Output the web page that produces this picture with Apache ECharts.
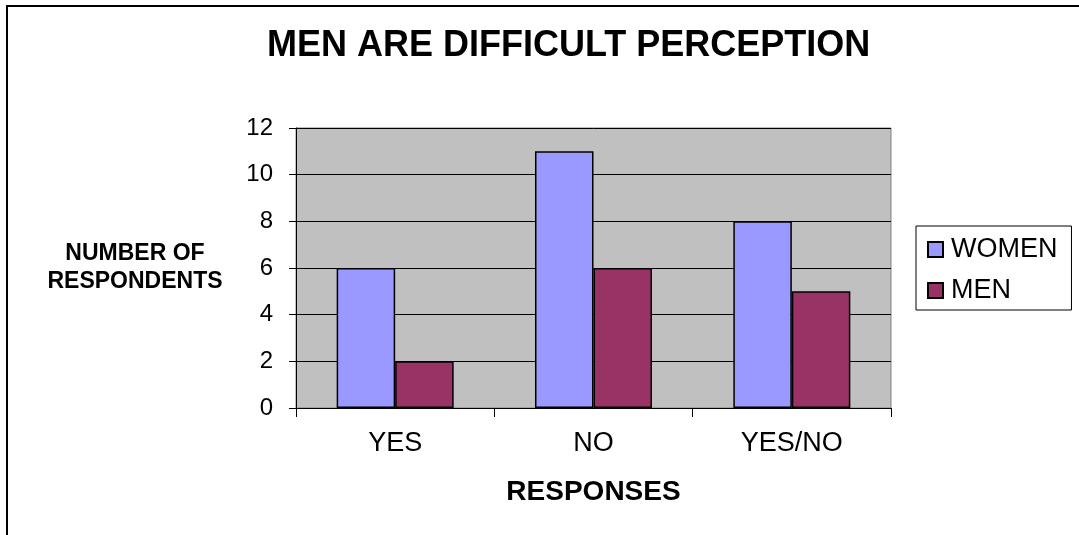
<!DOCTYPE html>
<html>
<head>
<meta charset="utf-8">
<script src="https://cdn.jsdelivr.net/npm/echarts@6/dist/echarts.min.js"></script>
<style>
html,body{margin:0;padding:0;background:#fff;}
#main{width:1079px;height:535px;}
</style>
</head>
<body>
<div id="main"></div>
<script>
// data
var categories = ['YES', 'NO', 'YES/NO'];
var women = [6, 11, 8];
var men = [2, 6, 5];
var yTicks = [0, 2, 4, 6, 8, 10, 12];

var font = '"Liberation Sans", Arial, sans-serif';

var myChart = echarts.init(document.getElementById('main'));

option = {
    backgroundColor: '#fff',
    animation: false,
    title: {
        text: 'MEN ARE DIFFICULT PERCEPTION',
        left: 267,
        top: 28,
        padding: 0,
        textStyle: {fontFamily: font, fontSize: 36, fontWeight: 'bold', color: '#000'}
    },
    graphic: [{
        type: 'rect',
        shape: {x: 7, y: 6, width: 1120, height: 600},
        style: {fill: 'none', stroke: '#000', lineWidth: 2},
        silent: true,
        z: -10
    }],
    legend: {
        orient: 'vertical',
        left: 916,
        top: 226,
        padding: [10, 14, 6, 11],
        itemGap: 14,
        itemWidth: 15,
        itemHeight: 15,
        icon: 'rect',
        backgroundColor: '#fff',
        borderColor: '#000',
        borderWidth: 1,
        data: ['WOMEN', 'MEN'],
        textStyle: {fontFamily: font, fontSize: 27, color: '#000', padding: [0, 0, 0, 3]}
    },
    grid: {
        left: 296,
        top: 128,
        right: 188,
        bottom: 127,
        show: true,
        backgroundColor: '#c0c0c0',
        borderColor: '#808080',
        borderWidth: 1,
        containLabel: false
    },
    xAxis: {
        type: 'category',
        data: categories,
        name: 'RESPONSES',
        nameLocation: 'middle',
        nameGap: 84,
        nameTextStyle: {fontFamily: font, fontSize: 28, fontWeight: 'bold', color: '#000', verticalAlign: 'middle'},
        axisLine: {lineStyle: {color: '#000', width: 1}},
        axisTick: {show: true, length: 9, lineStyle: {color: '#000'}},
        axisLabel: {fontFamily: font, fontSize: 27, color: '#000', margin: 22}
    },
    yAxis: {
        type: 'value',
        min: yTicks[0],
        max: yTicks[yTicks.length - 1],
        interval: 2,
        name: 'NUMBER OF\nRESPONDENTS',
        nameLocation: 'middle',
        nameRotate: 0,
        nameGap: 161,
        nameTextStyle: {fontFamily: font, fontSize: 23, fontWeight: 'bold', color: '#000', align: 'center', verticalAlign: 'middle', lineHeight: 28},
        axisLine: {show: true, lineStyle: {color: '#000', width: 1}},
        axisTick: {show: true, length: 7, lineStyle: {color: '#000'}},
        axisLabel: {fontFamily: font, fontSize: 24, color: '#000', margin: 23},
        splitLine: {show: true, lineStyle: {color: '#000', width: 1}}
    },
    series: [
        {
            name: 'WOMEN',
            type: 'bar',
            data: women,
            barGap: '0%',
            barCategoryGap: '41%',
            itemStyle: {color: '#9999ff', borderColor: '#000', borderWidth: 1.5}
        },
        {
            name: 'MEN',
            type: 'bar',
            data: men,
            itemStyle: {color: '#993366', borderColor: '#000', borderWidth: 1.5}
        }
    ]
};
myChart.setOption(option);
</script>
</body>
</html>
